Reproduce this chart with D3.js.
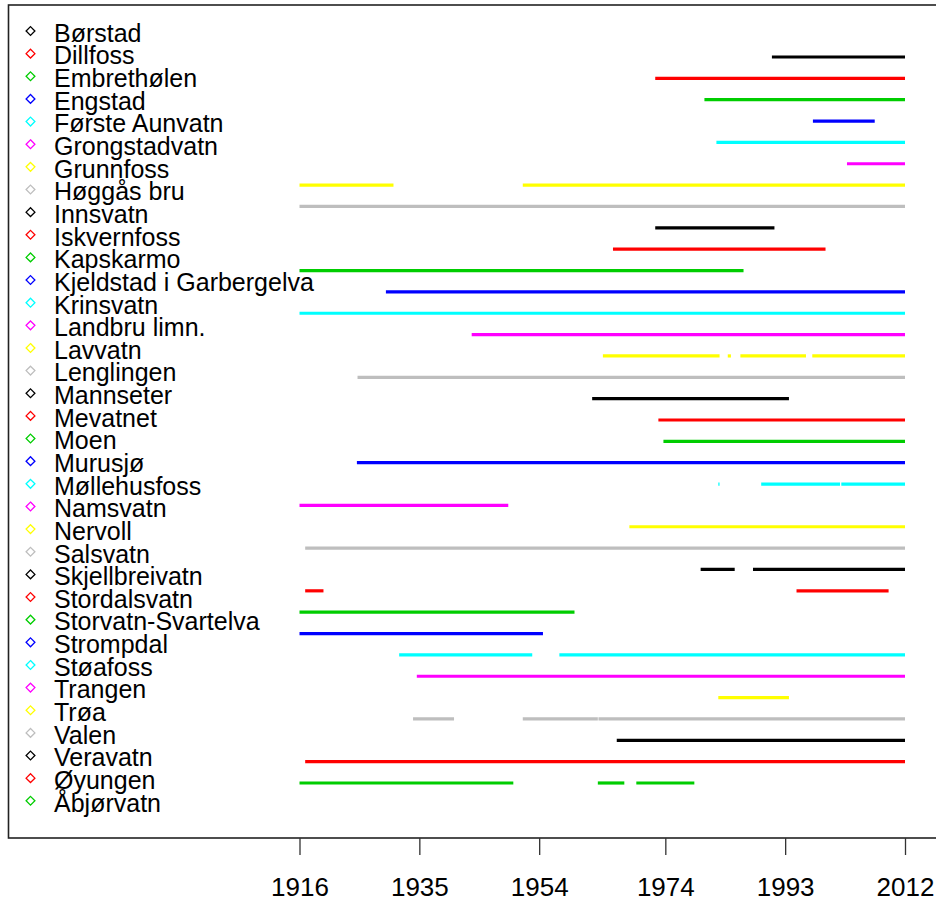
<!DOCTYPE html>
<html>
<head>
<meta charset="utf-8">
<script src="https://cdn.jsdelivr.net/npm/d3@7"></script>
<style>
  html, body { margin: 0; padding: 0; background: #fff; }
  svg { display: block; font-family: "Liberation Sans", Arial, sans-serif; }
</style>
</head>
<body>
<svg id="chart" width="936" height="904"></svg>
<script>
// Gauging stations and their observation periods (decimal years)
const stations = [
  "Børstad", "Dillfoss", "Embrethølen", "Engstad", "Første Aunvatn",
  "Grongstadvatn", "Grunnfoss", "Høggås bru", "Innsvatn", "Iskvernfoss",
  "Kapskarmo", "Kjeldstad i Garbergelva", "Krinsvatn", "Landbru limn.", "Lavvatn",
  "Lenglingen", "Mannseter", "Mevatnet", "Moen", "Murusjø",
  "Møllehusfoss", "Namsvatn", "Nervoll", "Salsvatn", "Skjellbreivatn",
  "Stordalsvatn", "Storvatn-Svartelva", "Strompdal", "Støafoss", "Trangen",
  "Trøa", "Valen", "Veravatn", "Øyungen", "Åbjørvatn"
];

// Colours cycle through the default palette
const palette = ["#000000", "#FF0000", "#00CD00", "#0000FF", "#00FFFF", "#FF00FF", "#FFFF00", "#BEBEBE"];

// One list of [start, end] periods per station, same order as above
const periods = [
  [[1990.9, 2012]],
  [[1972.4, 2012]],
  [[1980.2, 2012]],
  [[1997.4, 2007.2]],
  [[1982.1, 2012]],
  [[2002.8, 2012]],
  [[1916, 1930.9], [1951.4, 2012]],
  [[1916, 2012]],
  [[1972.4, 1991.3]],
  [[1965.7, 1999.4]],
  [[1916, 1986.4]],
  [[1929.7, 2012]],
  [[1916, 2012]],
  [[1943.3, 2012]],
  [[1964.1, 1982.6], [1983.9, 1984.4], [1985.9, 1996.3], [1997.3, 2012]],
  [[1925.2, 2012]],
  [[1962.4, 1993.6]],
  [[1972.9, 2012]],
  [[1973.7, 2012]],
  [[1925.1, 2012]],
  [[1982.4, 1982.6], [1989.2, 2001.7], [2001.9, 2012]],
  [[1916, 1949.1]],
  [[1968.3, 2012]],
  [[1916.9, 2012]],
  [[1979.6, 1985.0], [1987.9, 2012]],
  [[1916.9, 1919.8], [1994.8, 2009.4]],
  [[1916, 1959.6]],
  [[1916, 1954.6]],
  [[1931.8, 1952.9], [1957.2, 2012]],
  [[1934.6, 2012]],
  [[1982.4, 1993.6]],
  [[1934.0, 1940.5], [1951.4, 1963.3], [1963.4, 2012]],
  [[1966.3, 2012]],
  [[1916.9, 2012]],
  [[1916, 1949.9], [1963.3, 1967.5], [1969.4, 1978.6]]
];

const yearTicks = [1916, 1935, 1954, 1974, 1993, 2012];

const svg = d3.select("#chart");

const x = d3.scaleLinear().domain([1916, 2012]).range([299.5, 905]);
const yBar = d3.scalePoint().domain(stations).range([57, 783]);
const yLegend = d3.scalePoint().domain(stations).range([31, 800.8]);
const colour = (i) => palette[i % palette.length];

// Plot frame (right side runs past the page edge)
svg.append("rect")
  .attr("x", 8.5).attr("y", 5)
  .attr("width", 945).attr("height", 833)
  .attr("fill", "none")
  .attr("stroke", "#222")
  .attr("stroke-width", 1.6);

// Observation periods
const rows = svg.append("g").attr("class", "periods")
  .selectAll("g")
  .data(stations.map((name, i) => ({ name, i, segs: periods[i] })))
  .join("g");

rows.selectAll("line")
  .data(d => d.segs.map(s => ({ s, i: d.i, name: d.name })))
  .join("line")
  .attr("x1", d => x(d.s[0]))
  .attr("x2", d => x(d.s[1]))
  .attr("y1", d => yBar(d.name))
  .attr("y2", d => yBar(d.name))
  .attr("stroke", d => colour(d.i))
  .attr("stroke-width", 3.2)
  .attr("stroke-linecap", "butt");

// Legend
const legend = svg.append("g").attr("class", "legend");
const item = legend.selectAll("g")
  .data(stations)
  .join("g")
  .attr("transform", d => `translate(0,${yLegend(d)})`);

item.append("path")
  .attr("d", "M30.5,-4.4 L34.9,0 L30.5,4.4 L26.1,0 Z")
  .attr("fill", "none")
  .attr("stroke", (d, i) => colour(i))
  .attr("stroke-width", 1.3);

item.append("text")
  .attr("x", 54)
  .attr("y", 10.8)
  .attr("font-size", 25)
  .attr("fill", "#000")
  .text(d => d);

// Year axis
const axis = d3.axisBottom(x)
  .tickValues(yearTicks)
  .tickFormat(d3.format("d"))
  .tickSize(17)
  .tickPadding(23);

const gx = svg.append("g")
  .attr("transform", "translate(0,838)")
  .call(axis);
gx.select(".domain").remove();
gx.selectAll(".tick line").attr("stroke", "#333").attr("stroke-width", 1.3);
gx.selectAll(".tick text")
  .attr("font-size", 26)
  .attr("font-family", "'Liberation Sans', Arial, sans-serif")
  .attr("fill", "#000");
</script>
</body>
</html>
